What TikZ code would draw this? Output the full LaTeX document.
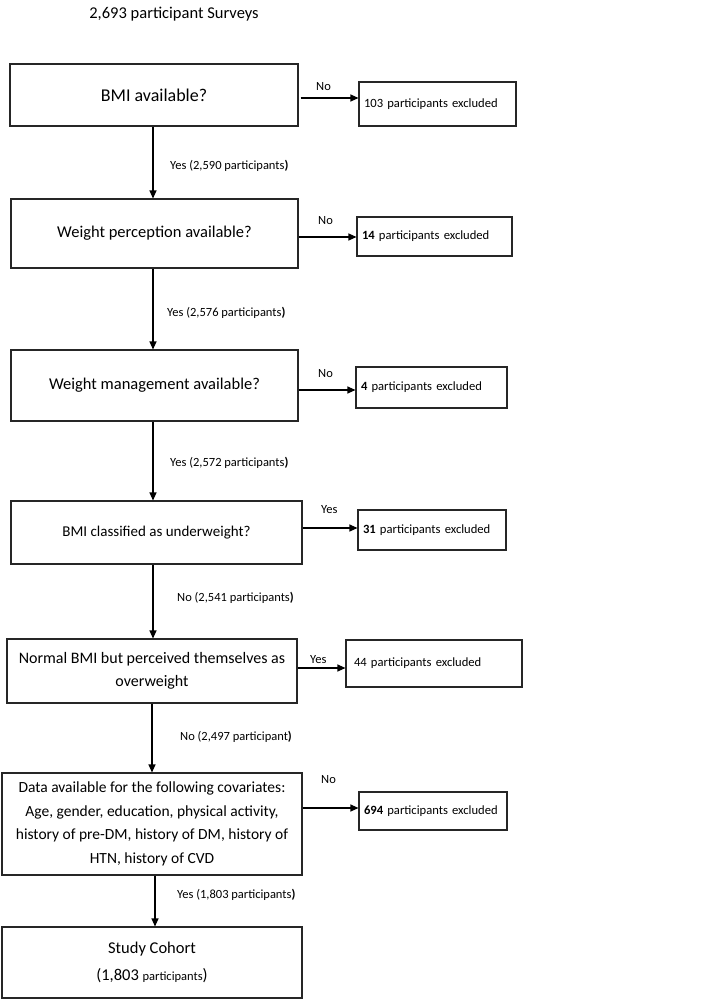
\documentclass[tikz,border=0pt]{standalone}
\usepackage{fontspec}
\setmainfont{Carlito}
\usetikzlibrary{arrows.meta,calc}
\begin{document}
\begin{tikzpicture}[x=1pt,y=-1pt,
  mainbox/.style={draw=black!85, line width=1.1pt, inner sep=0pt, align=center},
  exbox/.style={draw=black!85, line width=1.1pt, inner xsep=5pt, inner ysep=0pt, align=left,
    font=\fontsize{12.6}{15}\selectfont},
  arr/.style={line width=1.1pt, -{Triangle[length=8pt,width=7pt]}},
  lbl/.style={inner sep=0pt, font=\fontsize{12.5}{14}\selectfont},
]
\useasboundingbox (0,0) rectangle (709,1001);

\node[inner sep=0pt, font=\fontsize{16.5}{18}\selectfont] (title) at (174,14) {2,693 participant Surveys};

% main boxes
\node[mainbox, minimum width=288pt, minimum height=62pt, font=\fontsize{18}{20}\selectfont] (b1) at (154,95) {BMI available?};
\node[mainbox, minimum width=287pt, minimum height=69pt, font=\fontsize{16.5}{20}\selectfont] (b2) at (154.5,233.5) {Weight perception available?};
\node[mainbox, minimum width=287pt, minimum height=71pt, font=\fontsize{16.5}{20}\selectfont] (b3) at (154.5,385.5) {Weight management available?};
\node[mainbox, minimum width=291pt, minimum height=63pt, font=\fontsize{15}{20}\selectfont] (b4) at (156.5,532.5) {BMI classified as underweight?};
\node[mainbox, minimum width=290pt, minimum height=64pt, font=\fontsize{16}{23}\selectfont] (b5) at (152,671) {Normal BMI but perceived themselves as\\overweight};
\node[mainbox, minimum width=300pt, minimum height=102pt, font=\fontsize{15.5}{23.5}\selectfont] (b6) at (152,824) {Data available for the following covariates:\\Age, gender, education, physical activity,\\history of pre-DM, history of DM, history of\\HTN, history of CVD};
\node[mainbox, minimum width=300pt, minimum height=71pt, font=\fontsize{16.5}{27}\selectfont] (b7) at (152,962.5) {Study Cohort\\(1,803 {\fontsize{12.5}{14}\selectfont participants})};

% exclusion boxes
\node[exbox, text width=147pt, minimum height=44pt] (r1) at (437.5,104) {103 participants excluded};
\node[exbox, text width=145pt, minimum height=39pt] (r2) at (434.5,236.5) {\textbf{14} participants excluded};
\node[exbox, text width=141pt, minimum height=41pt] (r3) at (431.5,387.5) {\textbf{4} participants excluded};
\node[exbox, text width=138pt, minimum height=40pt] (r4) at (432,530) {\textbf{31} participants excluded};
\node[exbox, text width=160pt, minimum height=47pt, inner xsep=8pt] (r5) at (434,663.5) {44 participants excluded};
\node[exbox, text width=138pt, minimum height=38pt] (r6) at (433,811) {\textbf{694} participants excluded};

% horizontal arrows
\coordinate (h1) at ($(b1.east)+(2,3)$);
\coordinate (h2) at ($(b2.east)+(0,3.5)$);
\coordinate (h3) at ($(b3.east)+(0,4.5)$);
\coordinate (h4) at ($(b4.east)+(0,-4.5)$);
\coordinate (h5) at ($(b5.east)+(0,-3)$);
\coordinate (h6) at ($(b6.east)+(0,-16)$);
\draw[arr] (h1) -- (r1.west |- h1);
\draw[arr] (h2) -- (r2.west |- h2);
\draw[arr] (h3) -- (r3.west |- h3);
\draw[arr] (h4) -- (r4.west |- h4);
\draw[arr] (h5) -- (r5.west |- h5);
\draw[arr] (h6) -- (r6.west |- h6);

\node[lbl, anchor=west] (n1) at (316,87) {No};
\node[lbl, anchor=west] (n2) at (318,221) {No};
\node[lbl, anchor=west] (n3) at (318,374) {No};
\node[lbl, anchor=west] (n4) at (321,510) {Yes};
\node[lbl, anchor=west] (n5) at (310,660) {Yes};
\node[lbl, anchor=west] (n6) at (321,780) {No};

% vertical arrows
\coordinate (v1) at ($(b1.south)+(-1,0)$);
\coordinate (v2) at ($(b2.south)+(-1.5,0)$);
\coordinate (v3) at ($(b3.south)+(-1.5,0)$);
\coordinate (v4) at ($(b4.south)+(-3.5,0)$);
\coordinate (v5) at (b5.south);
\coordinate (v6) at ($(b6.south)+(3,0)$);
\draw[arr] (v1) -- (v1 |- b2.north);
\draw[arr] (v2) -- (v2 |- b3.north);
\draw[arr] (v3) -- (v3 |- b4.north);
\draw[arr] (v4) -- (v4 |- b5.north);
\draw[arr] (v5) -- (v5 |- b6.north);
\draw[arr] (v6) -- (v6 |- b7.north);

\node[lbl, anchor=west] (y1) at (170,166) {Yes (2,590 participants\textbf{)}};
\node[lbl, anchor=west] (y2) at (167,313) {Yes (2,576 participants\textbf{)}};
\node[lbl, anchor=west] (y3) at (170,463) {Yes (2,572 participants\textbf{)}};
\node[lbl, anchor=west] (y4) at (177,598) {No (2,541 participants\textbf{)}};
\node[lbl, anchor=west] (y5) at (180,737) {No (2,497 participant\textbf{)}};
\node[lbl, anchor=west] (y6) at (177,895) {Yes (1,803 participants\textbf{)}};
\end{tikzpicture}
\end{document}
